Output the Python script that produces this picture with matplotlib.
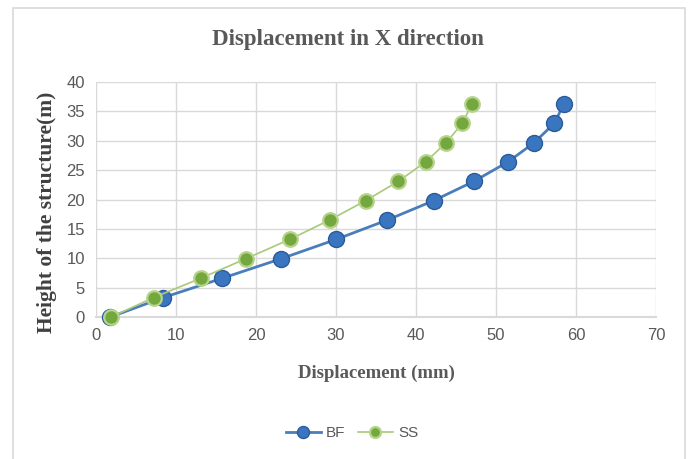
import matplotlib
matplotlib.use("Agg")
import matplotlib.pyplot as plt
from matplotlib.patches import Rectangle

height = [0, 3.3, 6.6, 9.9, 13.2, 16.5, 19.8, 23.1, 26.4, 29.7, 33.0, 36.3]
bf_disp = [1.8, 8.4, 15.8, 23.1, 30.0, 36.4, 42.2, 47.25, 51.5, 54.8, 57.3, 58.5]
ss_disp = [1.9, 7.2, 13.1, 18.7, 24.2, 29.2, 33.7, 37.8, 41.2, 43.8, 45.8, 47.0]
x_ticks = [0, 10, 20, 30, 40, 50, 60, 70]
y_ticks = [0, 5, 10, 15, 20, 25, 30, 35, 40]

W, H = 688, 459
fig = plt.figure(figsize=(W / 100, H / 100), dpi=100)
fig.patch.set_facecolor("white")

# outer chart border
fig.add_artist(Rectangle((13 / W, -0.01), (685 - 13) / W, (H - 8) / H + 0.01,
                         transform=fig.transFigure, fill=False,
                         edgecolor="#D9D9D9", linewidth=1.2))

ax = fig.add_axes([96 / W, 1 - 317 / H, (656 - 96) / W, (317 - 82) / H])
ax.set_xlim(0, 70)
ax.set_ylim(0, 40)
ax.set_xticks(x_ticks)
ax.set_yticks(y_ticks)
ax.grid(True, color="#D9D9D9", linewidth=1.0)
ax.set_axisbelow(True)
for s in ["top", "right", "left"]:
    ax.spines[s].set_visible(False)
ax.spines["bottom"].set_color("#D9D9D9")
ax.spines["bottom"].set_linewidth(1.5)
ax.tick_params(length=0, pad=8, labelsize=12, labelcolor="#595959")
sans = ["Liberation Sans Narrow", "Liberation Sans", "DejaVu Sans"]
for lab in ax.get_xticklabels() + ax.get_yticklabels():
    lab.set_family(sans)

ax.plot(bf_disp, height, color="#4A7EBB", linewidth=2.0, marker="o",
        markersize=11.5, markerfacecolor="#3A76C0", markeredgecolor="#2A5A9A",
        markeredgewidth=1.0, label="BF", zorder=3, clip_on=False)
ax.plot(ss_disp, height, color="#A9C97A", linewidth=1.2, marker="o",
        markersize=10.5, markerfacecolor="#74A83E", markeredgecolor="#B5D48A",
        markeredgewidth=1.6, label="SS", zorder=4, clip_on=False)

serif = ["Liberation Serif", "DejaVu Serif"]
fig.text(348 / W, 1 - 40 / H, "Displacement in X direction", ha="center", va="center",
         fontsize=16.5, fontweight="bold", family=serif, color="#595959")
fig.text(376 / W, 1 - 373 / H, "Displacement (mm)", ha="center", va="center",
         fontsize=13.5, fontweight="bold", family=serif, color="#595959")
fig.text(47 / W, 1 - 212 / H, "Height of the structure(m)", ha="center", va="center",
         rotation=90, fontsize=15.5, fontweight="bold", family=serif, color="#404040")

leg = fig.legend(loc="center", bbox_to_anchor=(352 / W, 1 - 433 / H), ncol=2,
                 frameon=False, fontsize=11, handlelength=2.3, columnspacing=0.8,
                 markerscale=0.75, handletextpad=0.35)
for t in leg.get_texts():
    t.set_color("#595959")
    t.set_family(sans)

fig.savefig("out.png", dpi=100)
